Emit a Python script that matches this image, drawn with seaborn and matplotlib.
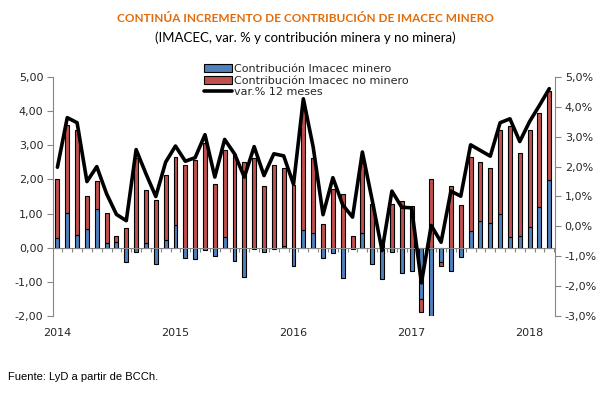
import numpy as np
import pandas as pd
import matplotlib
matplotlib.use("Agg")
import matplotlib.pyplot as plt
from matplotlib.patches import Patch
from matplotlib.lines import Line2D
import matplotlib.ticker as mticker
import seaborn as sns

# ---- data (Jan 2014 .. Mar 2018) ----
months = pd.date_range("2014-01-01", "2018-03-01", freq="MS").strftime("%Y-%m").tolist()

minero = [0.29, 1.02, 0.36, 0.55, 1.14, 0.15, 0.17, -0.41, -0.12, 0.15, -0.49, 0.23,
          0.67, -0.30, -0.32, -0.07, -0.24, 0.32, -0.39, -0.86, -0.05, -0.13, -0.05, 0.05,
          -0.54, 0.53, 0.44, -0.30, -0.15, -0.90, -0.05, 0.44, -0.49, -0.92, -0.12, -0.75,
          -0.67, -1.51, -1.99, -0.41, -0.67, -0.26, 0.48, 0.79, 0.73, 0.99, 0.32, 0.35,
          0.61, 1.20, 1.98]

no_minero = [1.73, 2.57, 3.08, 0.95, 0.81, 0.87, 0.18, 0.58, 2.62, 1.55, 1.40, 1.90,
             1.98, 2.41, 2.57, 3.07, 1.88, 2.53, 2.74, 2.51, 2.64, 1.81, 2.42, 2.28,
             1.84, 3.62, 2.18, 0.68, 1.72, 1.57, 0.35, 2.04, 1.29, 0.10, 1.28, 1.37,
             1.23, -0.36, 2.02, -0.14, 1.81, 1.25, 2.19, 1.72, 1.60, 2.45, 3.24, 2.42,
             2.83, 2.74, 2.62]

var12 = [1.98, 3.64, 3.47, 1.50, 2.00, 1.09, 0.40, 0.19, 2.57, 1.76, 1.00, 2.15,
         2.69, 2.18, 2.30, 3.07, 1.65, 2.91, 2.43, 1.65, 2.67, 1.70, 2.43, 2.36,
         1.41, 4.27, 2.65, 0.39, 1.63, 0.72, 0.31, 2.49, 0.87, -0.81, 1.18, 0.64,
         0.62, -1.89, 0.03, -0.53, 1.18, 1.01, 2.73, 2.54, 2.35, 3.47, 3.60, 2.84,
         3.51, 4.05, 4.61]

year_labels = ["2014", "2015", "2016", "2017", "2018"]

series_names = ["Contribución Imacec minero", "Contribución Imacec no minero", "var.% 12 meses"]

# ---- style ----
sns.set_style("white")
plt.rcParams["font.family"] = ["DejaVu Sans"]

BLUE = "#4F81BD"
RED = "#C0504D"
GREY = "#868686"

df = pd.DataFrame({"month": months, "minero": minero, "no_minero": no_minero, "var12": var12})
df["pos"] = np.arange(len(df))
# Excel-like stacking: positives on positives, negatives on negatives
df["red_bottom"] = np.where(df["no_minero"] >= 0,
                            np.maximum(df["minero"], 0),
                            np.minimum(df["minero"], 0))

fig = plt.figure(figsize=(6.1, 3.93), dpi=100)
ax = fig.add_axes([53 / 610, 1 - 316 / 393, (555 - 53) / 610, (316 - 77) / 393])

w = 0.4
ax.bar(df["pos"], df["minero"], width=w, color=BLUE, edgecolor="black", linewidth=0.8, zorder=2)
ax.bar(df["pos"], df["no_minero"], bottom=df["red_bottom"], width=w, color=RED,
       edgecolor="black", linewidth=0.8, zorder=2)

ax.set_xlim(-0.45, 50.58)
ax.set_ylim(-2, 5)
ax.set_yticks(np.arange(-2, 5.01, 1))
ax.yaxis.set_major_formatter(mticker.FuncFormatter(lambda v, p: f"{v:.2f}".replace(".", ",")))
ax.tick_params(axis="y", direction="out", length=4, color=GREY, labelsize=8, pad=3, left=True)

ax.spines["top"].set_visible(False)
ax.spines["right"].set_visible(False)
ax.spines["left"].set_color(GREY)
ax.spines["bottom"].set_color(GREY)
ax.spines["bottom"].set_position(("data", 0))
ax.set_xticks(np.arange(-0.5, len(df), 1))
ax.set_xticklabels([])
ax.tick_params(axis="x", direction="out", length=3, color=GREY, bottom=True)

for i, lab in zip(range(0, len(df), 12), year_labels):
    ax.text(i, -0.071, lab, transform=ax.get_xaxis_transform(), ha="center", va="center", fontsize=8)

ax2 = ax.twinx()
sns.lineplot(data=df, x="pos", y="var12", ax=ax2, color="black", linewidth=2.6, zorder=3)
ax2.set_ylim(-3, 5)
ax2.set_yticks(np.arange(-3, 5.01, 1))
ax2.yaxis.set_major_formatter(mticker.FuncFormatter(lambda v, p: f"{v:.1f}%".replace(".", ",")))
ax2.tick_params(axis="y", direction="out", length=4, color=GREY, labelsize=8, pad=3, right=True)
ax2.set_ylabel("")
ax.set_xlabel("")
ax.set_ylabel("")
for s in ["top", "left", "bottom"]:
    ax2.spines[s].set_visible(False)
ax2.spines["right"].set_color(GREY)
ax2.set_xlim(-0.45, 50.58)

handles = [Patch(facecolor=BLUE, edgecolor="black", linewidth=0.8),
           Patch(facecolor=RED, edgecolor="black", linewidth=0.8),
           Line2D([], [], color="black", linewidth=2.6)]
fig.legend(handles, series_names, loc="upper left", bbox_to_anchor=(204 / 610, 1 - 64 / 393),
           frameon=False, fontsize=8, handlelength=2.5, handleheight=0.7,
           labelspacing=0.15, handletextpad=0.2, borderaxespad=0, borderpad=0)

fig.text(0.5, 1 - 19 / 393, "CONTINÚA INCREMENTO DE CONTRIBUCIÓN DE IMACEC MINERO",
         ha="center", va="center", fontsize=8.5, fontweight="bold", color="#E36C09",
         family=["Lato", "DejaVu Sans"])
fig.text(0.5, 1 - 38 / 393, "(IMACEC, var. % y contribución minera y no minera)",
         ha="center", va="center", fontsize=9.5, color="black", family=["Lato", "DejaVu Sans"])
fig.text(8 / 610, 1 - 377 / 393, "Fuente: LyD a partir de BCCh.", ha="left", va="center",
         fontsize=8, color="black", family=["Liberation Sans", "DejaVu Sans"])

fig.savefig("out.png", dpi=100)
